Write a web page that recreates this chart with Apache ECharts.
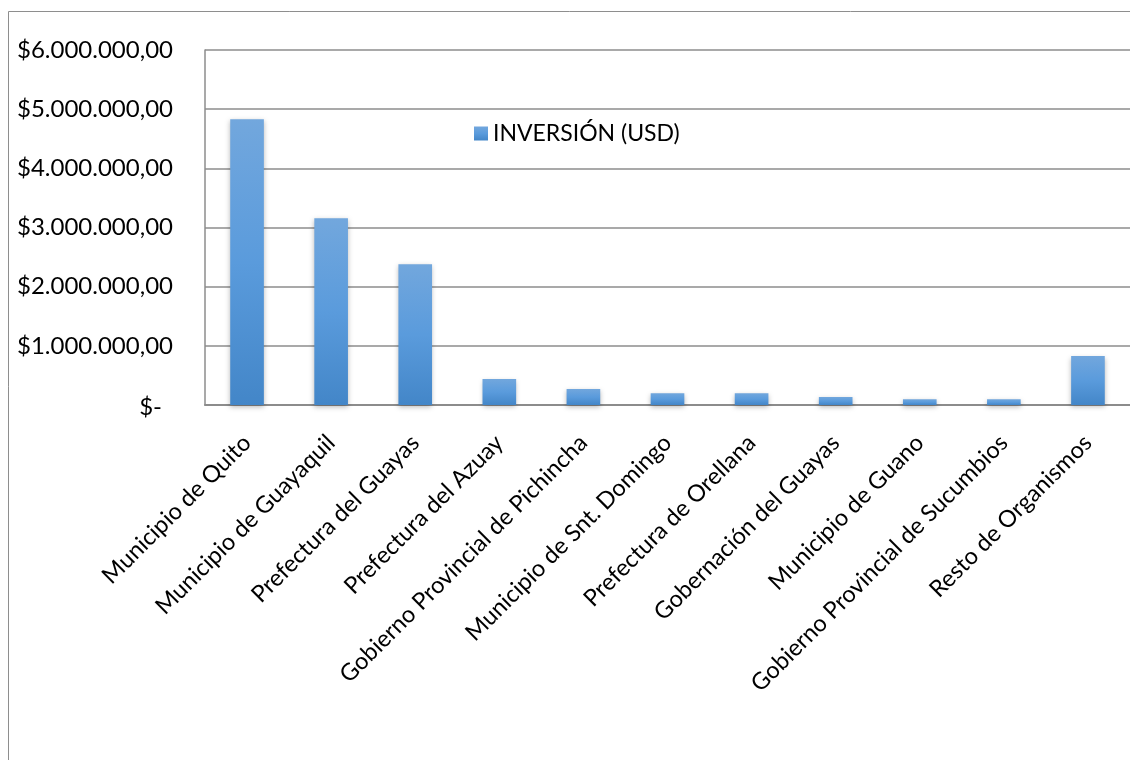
<!DOCTYPE html>
<html>
<head>
<meta charset="utf-8">
<script src="https://cdn.jsdelivr.net/npm/echarts@6/dist/echarts.min.js"></script>
<style>
  html, body { margin: 0; padding: 0; background: #ffffff; }
  #chart { width: 1130px; height: 760px; }
</style>
</head>
<body>
<div id="chart"></div>
<script>
// Inversión por organismo (USD)
const categories = [
  'Municipio de Quito',
  'Municipio de Guayaquil',
  'Prefectura del Guayas',
  'Prefectura del Azuay',
  'Gobierno Provincial de Pichincha',
  'Municipio de Snt. Domingo',
  'Prefectura de Orellana',
  'Gobernación del Guayas',
  'Municipio de Guano',
  'Gobierno Provincial de Sucumbios',
  'Resto de Organismos'
];
const inversion = [4830000, 3155000, 2380000, 440000, 270000, 200000, 200000, 135000, 96000, 96000, 830000];
const seriesName = 'INVERSIÓN (USD)';
const yTicks = [0, 1000000, 2000000, 3000000, 4000000, 5000000, 6000000];

function moneyLabel(v) {
  if (v === 0) return '{z|$-}';
  const whole = Math.round(v).toString().replace(/\B(?=(\d{3})+(?!\d))/g, '.');
  return '$' + whole + ',00';
}

const FONT = 'Lato';
const chart = echarts.init(document.getElementById('chart'), null, { renderer: 'canvas' });

chart.setOption({
  animation: false,
  backgroundColor: '#ffffff',
  textStyle: { fontFamily: FONT },
  graphic: [{
    type: 'rect',
    shape: { x: 8.5, y: 11.5, width: 1140, height: 760 },
    style: { fill: 'none', stroke: '#8e8e8e', lineWidth: 1 },
    silent: true
  }],
  legend: {
    data: [seriesName],
    left: 469,
    top: 117,
    itemWidth: 14,
    itemHeight: 14,
    itemGap: 6,
    icon: 'rect',
    textStyle: { fontFamily: FONT, fontSize: 23, color: '#000000' }
  },
  grid: { left: 205, top: 50, right: -2, bottom: 355, containLabel: false },
  xAxis: {
    type: 'category',
    data: categories,
    axisLine: { show: true, lineStyle: { color: '#8c8c8c', width: 2 } },
    axisTick: { show: false },
    axisLabel: {
      interval: 0,
      rotate: 45,
      margin: 34,
      fontFamily: FONT,
      fontSize: 23.5,
      color: '#000000'
    }
  },
  yAxis: {
    type: 'value',
    min: yTicks[0],
    max: yTicks[yTicks.length - 1],
    interval: yTicks[1] - yTicks[0],
    axisLine: { show: true, lineStyle: { color: '#8c8c8c', width: 1.5 } },
    axisTick: { show: false },
    splitLine: { show: true, lineStyle: { color: '#8c8c8c', width: 1.5 } },
    axisLabel: {
      margin: 32,
      fontFamily: FONT,
      fontSize: 24,
      color: '#000000',
      formatter: moneyLabel,
      rich: {
        z: { fontFamily: FONT, fontSize: 24, color: '#000000', padding: [4, 11, 0, 0] }
      }
    }
  },
  series: [{
    name: seriesName,
    type: 'bar',
    data: inversion,
    barWidth: '40%',
    itemStyle: {
      color: new echarts.graphic.LinearGradient(0, 0, 0, 1, [
        { offset: 0, color: '#72a7dd' },
        { offset: 0.5, color: '#5a9bdc' },
        { offset: 1, color: '#4386c8' }
      ]),
      shadowColor: 'rgba(0,0,0,0.28)',
      shadowBlur: 5,
      shadowOffsetY: 2
    },
    legendIcon: 'rect'
  }]
});
</script>
</body>
</html>
